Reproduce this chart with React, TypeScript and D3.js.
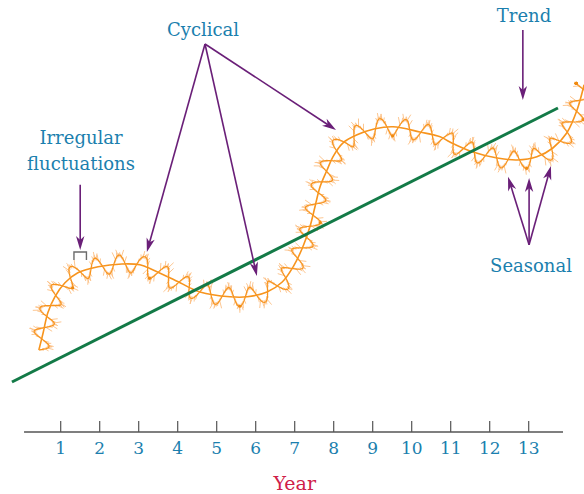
import { useEffect, useRef } from 'react';
import * as d3 from 'd3';

// axis / ticks
const TICK_YEARS = [1, 2, 3, 4, 5, 6, 7, 8, 9, 10, 11, 12, 13];
const AXIS_EXTENT = [0.06, 13.88];

// long-run trend (straight line)
const TREND_YEARS = [-0.25, 13.75];
const TREND_VALUES = [1.25, 8.1];

// cyclical component
const CYCLE_YEARS = [0.44, 0.55, 0.67, 0.85, 1.11, 1.44, 1.96, 2.57, 3.03, 3.37, 4.06, 4.57, 5.34, 5.78, 6.29, 6.68, 6.96, 7.21, 7.39, 7.52, 7.65, 7.83, 7.98, 8.24, 8.6, 9.06, 9.52, 10.21, 10.73, 10.98, 11.57, 12.19, 12.7, 13.21, 13.62, 13.98, 14.24, 14.42];
const CYCLE_VALUES = [2.05, 2.48, 2.98, 3.38, 3.73, 3.98, 4.13, 4.2, 4.18, 4.05, 3.73, 3.5, 3.38, 3.38, 3.5, 3.75, 4.13, 4.63, 5.13, 5.63, 6.13, 6.55, 6.88, 7.23, 7.43, 7.58, 7.63, 7.5, 7.38, 7.25, 7.0, 6.85, 6.8, 6.88, 7.1, 7.48, 8.05, 8.68];

// one seasonal swing (repeated along the cycle), and fuzz lengths for the irregular part
const SEASON_SHAPE = [0, 0.71, 1, 0.71, 0, -0.71, -1, -0.71];
const SEASON_PERIOD = 23; // px of curve per season
const SEASON_AMP = 10;
const HAIR_LEN = [4.5, 2.5, 5.5, 3, 6, 3.5, 2, 5, 3, 6.5];
const DOT_AT = [3, 7, 11, 16, 22, 28, 31, 35, 41, 44, 47, 52];

const LABEL_FONT = '"DejaVu Serif", serif';
const BLUE = '#1b7fae';
const PURPLE = '#6a1f78';
const ORANGE = '#f7941d';

export default function App() {
  const svgRef = useRef<SVGSVGElement>(null);

  useEffect(() => {
    document.body.style.margin = '0';
    const width = 584, height = 494;
    const x = d3.scaleLinear().domain([0, 13]).range([21.7, 528.7]);
    const y = d3.scaleLinear().domain([0, 10]).range([432, 32]);

    const svg = d3.select(svgRef.current!)
      .attr('width', width).attr('height', height)
      .attr('viewBox', `0 0 ${width} ${height}`);
    svg.selectAll('*').remove();

    // axis
    svg.append('line')
      .attr('x1', x(AXIS_EXTENT[0])).attr('x2', x(AXIS_EXTENT[1]))
      .attr('y1', y(0)).attr('y2', y(0))
      .attr('stroke', '#555').attr('stroke-width', 1.6);
    TICK_YEARS.forEach((t) => {
      svg.append('line')
        .attr('x1', x(t)).attr('x2', x(t)).attr('y1', y(0)).attr('y2', y(0) - 11)
        .attr('stroke', '#555').attr('stroke-width', 1.2);
      svg.append('text')
        .attr('x', x(t)).attr('y', y(0) + 22)
        .attr('text-anchor', 'middle').attr('font-family', LABEL_FONT).attr('font-size', 17)
        .attr('fill', BLUE).text(t);
    });
    svg.append('text')
      .attr('x', x(7)).attr('y', 490)
      .attr('text-anchor', 'middle').attr('font-family', LABEL_FONT).attr('font-size', 19)
      .attr('fill', '#cf2049').text('Year');

    // smooth cyclical line
    const pts = CYCLE_YEARS.map((yr, i) => [x(yr), y(CYCLE_VALUES[i])] as [number, number]);
    const line = d3.line().curve(d3.curveCatmullRom.alpha(0.5));
    const smooth = svg.append('path')
      .attr('d', line(pts)!).attr('fill', 'none')
      .attr('stroke', ORANGE).attr('stroke-width', 1.6);

    // seasonal wiggle + irregular fuzz
    const node = smooth.node() as SVGPathElement;
    const L = node.getTotalLength();
    const season = d3.interpolateBasisClosed(SEASON_SHAPE);
    const step = 0.5;
    const wig: { x: number; y: number; nx: number; ny: number; s: number; ph: number }[] = [];
    for (let s = 0; s <= L; s += step) {
      const a = node.getPointAtLength(Math.max(0, s - 0.6));
      const b = node.getPointAtLength(Math.min(L, s + 0.6));
      const p = node.getPointAtLength(s);
      const dx = b.x - a.x, dy = b.y - a.y;
      const len = Math.hypot(dx, dy) || 1;
      const nx = -dy / len, ny = dx / len;
      const ph = season((s / SEASON_PERIOD) % 1);
      const off = SEASON_AMP * ph;
      wig.push({ x: p.x + nx * off, y: p.y + ny * off, nx, ny, s, ph });
    }

    const fuzz = svg.append('g').attr('stroke', '#fcbf85').attr('stroke-width', 0.9);
    wig.forEach((w, i) => {
      if (i % 2 !== 0) return;
      if (Math.abs(w.ph) < 0.15) return;
      const k = HAIR_LEN[(i / 2) % HAIR_LEN.length];
      const side = w.ph >= 0 ? 1 : -1;
      // hairs lean a little along the curve so the tips fan out
      const tx = w.ny, ty = -w.nx;
      const lean = (((i / 2) % 3) - 1) * 0.5;
      fuzz.append('line')
        .attr('x1', w.x - w.nx * side * 2).attr('y1', w.y - w.ny * side * 2)
        .attr('x2', w.x + (w.nx * side + tx * lean) * k).attr('y2', w.y + (w.ny * side + ty * lean) * k);
    });

    svg.append('path')
      .attr('d', d3.line<typeof wig[0]>().x((d) => d.x).y((d) => d.y)(wig)!)
      .attr('fill', 'none').attr('stroke', ORANGE).attr('stroke-width', 1.2);

    DOT_AT.forEach((c) => {
      const s = (c + 0.25) * SEASON_PERIOD;
      const w = wig[Math.min(wig.length - 1, Math.round(s / step))];
      if (!w) return;
      svg.append('circle').attr('cx', w.x).attr('cy', w.y).attr('r', 1.6).attr('fill', '#f08a10');
    });

    // trend line
    svg.append('line')
      .attr('x1', x(TREND_YEARS[0])).attr('y1', y(TREND_VALUES[0]))
      .attr('x2', x(TREND_YEARS[1])).attr('y2', y(TREND_VALUES[1]))
      .attr('stroke', '#137a47').attr('stroke-width', 3);

    // annotations
    const arrow = (x1: number, y1: number, x2: number, y2: number) => {
      const dx = x2 - x1, dy = y2 - y1;
      const len = Math.hypot(dx, dy);
      const ux = dx / len, uy = dy / len;
      const hl = 14, hw = 4.2;
      const bx = x2 - ux * hl, by = y2 - uy * hl;
      const nx = bx + ux * 4, ny = by + uy * 4;
      svg.append('line').attr('x1', x1).attr('y1', y1).attr('x2', x2 - ux * 6).attr('y2', y2 - uy * 6)
        .attr('stroke', PURPLE).attr('stroke-width', 1.6);
      svg.append('path')
        .attr('d', `M${x2},${y2}L${bx - uy * hw},${by + ux * hw}L${nx},${ny}L${bx + uy * hw},${by - ux * hw}Z`)
        .attr('fill', PURPLE);
    };
    const label = (t: string, px: number, py: number) =>
      svg.append('text').attr('x', px).attr('y', py).attr('text-anchor', 'middle')
        .attr('font-family', LABEL_FONT).attr('font-size', 18).attr('fill', BLUE).text(t);

    label('Cyclical', 203, 36);
    [[3.21, 4.5], [6.03, 3.9], [8.06, 7.55]].forEach(([tx, ty]) => arrow(x(4.7), y(9.7), x(tx), y(ty)));

    label('Trend', 524, 22);
    arrow(x(12.85), y(10.05), x(12.85), y(8.3));

    label('Irregular', 81, 144);
    label('fluctuations', 81, 170);
    arrow(x(1.5), y(6.18), x(1.5), y(4.55));
    svg.append('path')
      .attr('d', `M${x(1.34)},${y(4.3)}V${y(4.5)}H${x(1.66)}V${y(4.3)}`)
      .attr('fill', 'none').attr('stroke', '#6b6b6b').attr('stroke-width', 1.4);

    label('Seasonal', 531, 272);
    [[12.47, 6.38], [13.01, 6.35], [13.57, 6.65]].forEach(([tx, ty]) => arrow(x(13.01), y(4.68), x(tx), y(ty)));
  }, []);

  return <svg ref={svgRef} style={{ display: 'block' }} />;
}
